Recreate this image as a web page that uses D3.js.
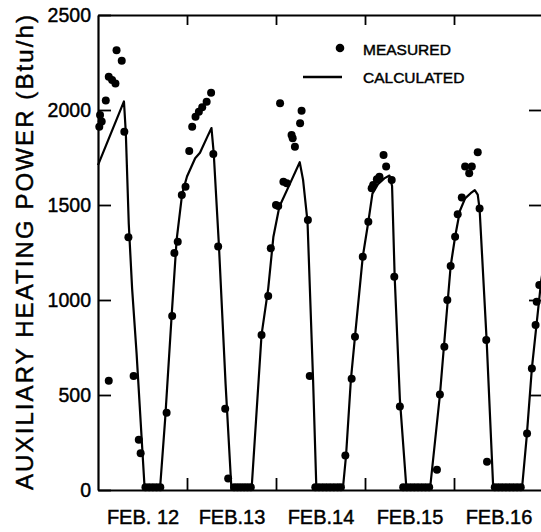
<!DOCTYPE html>
<html>
<head>
<meta charset="utf-8">
<script src="https://cdn.jsdelivr.net/npm/d3@7"></script>
<style>
  body { margin: 0; background: #fff; }
  svg { display: block; }
  text { font-family: "Liberation Sans", Arial, sans-serif; fill: #000; stroke: #000; stroke-width: 0.45px; }
</style>
</head>
<body>
<div id="chart"></div>
<script>
// hours counted from Feb. 12 00:00, power in Btu/h
const calculated = [
  [0, 1710], [7.0, 2045], [7.5, 1880], [8.3, 1400], [9.2, 1060], [10.4, 720], [12.6, 0],
  [16.7, 0], [18.1, 370], [19.9, 930], [21.2, 1316], [22.7, 1560], [24.0, 1650], [26.2, 1746],
  [27.5, 1775], [29.5, 1860], [30.6, 1905], [31.2, 1775], [32.6, 1290], [34.4, 560], [36.0, 0],
  [41.4, 0], [44.1, 816], [45.9, 1060], [47.3, 1333], [48.9, 1491], [51.8, 1614], [54.4, 1725],
  [55.3, 1632], [56.5, 1412], [58.0, 579], [58.9, 0],
  [66.0, 0], [66.9, 184], [68.2, 582], [69.3, 807], [71.4, 1228], [72.9, 1412], [74.0, 1560],
  [75.5, 1610], [77.2, 1640], [78.6, 1655], [79.3, 1600], [80.0, 1123], [81.4, 480], [83.2, 0],
  [89.5, 0], [92.2, 500], [93.9, 900], [95.1, 1179], [96.3, 1333], [97.6, 1470], [99.0, 1535],
  [100.5, 1562], [101.6, 1578], [102.4, 1555], [102.9, 1480], [104.8, 789], [106.6, 0],
  [114.3, 0], [115.6, 280], [117.0, 640], [119.5, 1100], [120, 1160]
]

const measured = [
  // feb 12
  [0.35, 1912], [0.55, 1974], [1.0, 1939], [2.1, 2050], [2.9, 575], [2.9, 2175], [3.8, 2158],
  [4.7, 2140], [5.0, 2314], [6.4, 2259], [7.1, 1886], [8.2, 1330], [9.6, 600], [11.0, 265],
  [11.5, 194],
  [12.8, 15], [13.8, 15], [14.8, 15], [15.8, 15], [16.8, 15],
  [18.5, 406], [20.0, 916], [20.6, 1247], [21.5, 1307], [22.6, 1553], [23.6, 1596],
  // feb 13
  [24.6, 1784], [25.4, 1912], [26.3, 1965], [27.2, 1991], [28.1, 2014], [29.3, 2044],
  [30.5, 2091], [31.1, 1768], [32.4, 1281], [34.3, 428], [35.1, 60],
  [36.7, 15], [37.6, 15], [38.5, 15], [39.4, 15], [40.3, 15], [41.2, 15],
  [44.1, 816], [45.9, 1021], [46.6, 1272],
  // feb 14
  [48.0, 1500], [48.6, 1495], [49.1, 2035], [50.0, 1623], [50.9, 1614], [52.2, 1868],
  [52.5, 1851], [53.1, 1807], [54.5, 1930], [54.9, 1996], [56.6, 1421], [57.1, 600],
  [58.6, 15], [59.6, 15], [60.6, 15], [61.6, 15], [62.6, 15], [63.6, 15], [64.6, 15], [65.5, 15],
  [66.7, 182], [68.4, 585], [69.3, 807], [71.4, 1228],
  // feb 15
  [72.9, 1412], [73.8, 1588], [74.2, 1605], [75.2, 1635], [75.9, 1649], [77.0, 1763],
  [77.7, 1702], [79.2, 1632], [79.9, 1123], [81.4, 440],
  [82.3, 15], [83.3, 15], [84.3, 15], [85.3, 15], [86.3, 15], [87.3, 15], [88.3, 15], [89.3, 15],
  [91.4, 107], [92.2, 502], [93.4, 754], [94.2, 1000], [95.1, 1179],
  // feb 16
  [96.3, 1333], [97.0, 1451], [98.1, 1540], [99.0, 1702], [100.1, 1667], [100.8, 1702],
  [102.4, 1777], [102.9, 1482], [104.7, 789], [104.9, 149],
  [107, 15], [108, 15], [109, 15], [110, 15], [111, 15], [112, 15], [113, 15], [114, 15],
  [115.7, 298], [117.0, 640], [118.0, 868], [118.3, 991], [119.0, 1079]
]

const powerTicks = [0, 500, 1000, 1500, 2000, 2500]
const dayTicks = [24, 48, 72, 96]
const dayCenters = [12, 36, 60, 84, 108]
const dayLabels = ["FEB. 12", "FEB.13", "FEB.14", "FEB.15", "FEB.16"]

// 1. dimensions
let dimensions = {
  width: 541,
  height: 532,
  margin: { top: 15, right: -2, bottom: 42, left: 98 },
}
dimensions.boundedWidth = dimensions.width
  - dimensions.margin.left
  - dimensions.margin.right
dimensions.boundedHeight = dimensions.height
  - dimensions.margin.top
  - dimensions.margin.bottom

// 2. canvas
const wrapper = d3.select("#chart")
  .append("svg")
    .attr("width", dimensions.width)
    .attr("height", dimensions.height)

const bounds = wrapper.append("g")
  .attr("transform", `translate(${dimensions.margin.left},${dimensions.margin.top})`)

// 3. scales
const xScale = d3.scaleLinear()
  .domain([0, 120])
  .range([0, dimensions.boundedWidth])

const yScale = d3.scaleLinear()
  .domain([0, 2500])
  .range([dimensions.boundedHeight, 0])

const xAccessor = d => d[0]
const yAccessor = d => d[1]

// 4. frame + ticks (all ticks point inward)
const styleAxis = g => {
  g.select(".domain").attr("stroke-width", 2.2)
  g.selectAll(".tick line").attr("stroke-width", 1.8)
}

bounds.append("g")
  .call(d3.axisLeft(yScale).tickValues(powerTicks).tickSize(-13).tickSizeOuter(0)
    .tickPadding(7).tickFormat(d3.format("d")))
  .call(styleAxis)
  .call(g => g.selectAll(".tick text").attr("font-size", 19.5))

bounds.append("g")
  .attr("transform", `translate(${dimensions.boundedWidth},0)`)
  .call(d3.axisRight(yScale).tickValues(powerTicks.slice(1, -1)).tickSize(-14).tickSizeOuter(0).tickFormat(""))
  .call(styleAxis)

bounds.append("g")
  .call(d3.axisTop(xScale).tickValues(dayTicks).tickSize(-10).tickSizeOuter(0).tickFormat(""))
  .call(styleAxis)

bounds.append("g")
  .attr("transform", `translate(0,${dimensions.boundedHeight})`)
  .call(d3.axisBottom(xScale).tickValues(dayTicks).tickSize(-12).tickSizeOuter(0).tickFormat(""))
  .call(styleAxis)

// day names sit in the middle of each day
bounds.append("g")
  .attr("transform", `translate(0,${dimensions.boundedHeight})`)
  .call(d3.axisBottom(xScale).tickValues(dayCenters).tickSize(0).tickPadding(20)
    .tickFormat((d, i) => dayLabels[i]))
  .call(g => g.select(".domain").remove())
  .call(g => g.selectAll(".tick text").attr("font-size", 20))

// 5. data
const lineGenerator = d3.line()
  .x(d => xScale(xAccessor(d)))
  .y(d => yScale(yAccessor(d)))

bounds.append("path")
  .attr("d", lineGenerator(calculated))
  .attr("fill", "none")
  .attr("stroke", "#000")
  .attr("stroke-width", 2.2)
  .attr("stroke-linejoin", "round")

bounds.selectAll("circle.meas")
  .data(measured)
  .enter()
  .append("circle")
    .attr("class", "meas")
    .attr("cx", d => xScale(xAccessor(d)))
    .attr("cy", d => yScale(yAccessor(d)))
    .attr("r", 4)
    .attr("fill", "#000")

// 6. peripherals
wrapper.append("text")
  .attr("transform", `translate(33,252.5) rotate(-90)`)
  .attr("text-anchor", "middle")
  .attr("font-size", 24)
  .attr("textLength", 475)
  .attr("lengthAdjust", "spacing")
  .text("AUXILIARY HEATING POWER (Btu/h)")

const legend = wrapper.append("g")
legend.append("circle")
  .attr("cx", 340).attr("cy", 48).attr("r", 4.3)
legend.append("text")
  .attr("x", 363).attr("y", 54.5)
  .attr("font-size", 15.5)
  .text("MEASURED")
legend.append("line")
  .attr("x1", 303).attr("x2", 342)
  .attr("y1", 77).attr("y2", 77)
  .attr("stroke", "#000").attr("stroke-width", 2.4)
legend.append("text")
  .attr("x", 363).attr("y", 83)
  .attr("font-size", 15.5)
  .text("CALCULATED")
</script>
</body>
</html>
